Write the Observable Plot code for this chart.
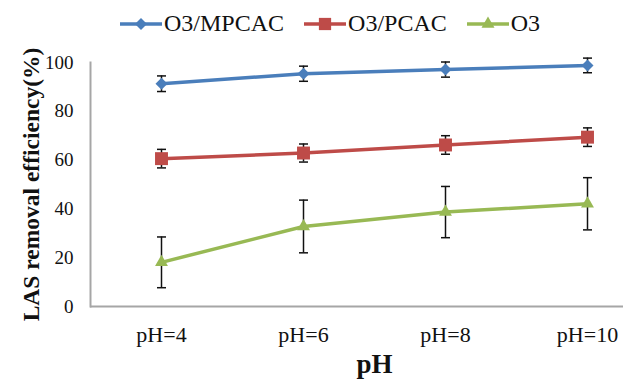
<!DOCTYPE html>
<html><head><meta charset="utf-8">
<script src="https://cdn.jsdelivr.net/npm/d3@7"></script>
<script src="https://cdn.jsdelivr.net/npm/@observablehq/plot@0.6"></script>
<style>
body{margin:0;background:#fff;font-family:"Liberation Serif","Times New Roman",serif;width:623px;height:381px;overflow:hidden;}
#legend{height:45px;display:flex;align-items:center;padding-left:120px;padding-top:2px;box-sizing:border-box;font-family:"Liberation Serif","Times New Roman",serif;font-size:24px;color:#111;}
.item{display:flex;align-items:center;margin-right:20px;}
.item span{font-family:"Liberation Serif","Times New Roman",serif;}
.item svg{margin-right:2px;}
#chart svg g[aria-label="y-axis label"]{font-size:23.5px;font-weight:bold;}
#chart svg g[aria-label="x-axis label"]{font-size:27px;font-weight:bold;}
</style></head><body>
<div id="legend"></div><div id="chart"></div>
<script>
const categories = ["pH=4", "pH=6", "pH=8", "pH=10"];
const seriesNames = ["O3/MPCAC", "O3/PCAC", "O3"];
const mpcacValues = [91.3, 95.4, 97.1, 98.8];
const mpcacErrors = [3.2, 3.1, 3.1, 3.0];
const pcacValues = [60.6, 62.9, 66.2, 69.4];
const pcacErrors = [3.8, 3.7, 3.8, 3.8];
const o3Values = [18.1, 32.8, 38.7, 42.1];
const o3Errors = [10.4, 10.8, 10.5, 10.7];
const yTicks = [0, 20, 40, 60, 80, 100];

const colors = ["#4a7ebb", "#be4b48", "#98b954"];
const symbols = ["diamond2", "square", "triangle"];
const valueSets = [mpcacValues, pcacValues, o3Values];
const errorSets = [mpcacErrors, pcacErrors, o3Errors];

const rows = [];
seriesNames.forEach((s, si) => categories.forEach((c, ci) => {
  rows.push({series: s, cat: c, v: valueSets[si][ci], e: errorSets[si][ci]});
}));

const capSymbol = {draw(ctx) { ctx.moveTo(-4.5, 0); ctx.lineTo(4.5, 0); }};

// legend
const legend = document.getElementById("legend");
seriesNames.forEach((s, i) => {
  const item = document.createElement("div");
  item.className = "item";
  const sym = i === 0 ? d3.symbol(d3.symbolDiamond2, 92)() : i === 1 ? d3.symbol(d3.symbolSquare, 150)() : d3.symbol(d3.symbolTriangle, 73)();
  item.innerHTML = `<svg width="42" height="18"><line x1="0" x2="42" y1="9" y2="9" stroke="${colors[i]}" stroke-width="3.5"/><path d="${sym}" transform="translate(21,9)" fill="${colors[i]}"/></svg><span>${s}</span>`;
  legend.appendChild(item);
});

const chart = Plot.plot({
  width: 623,
  height: 336,
  marginLeft: 90,
  marginRight: -35,
  marginTop: 17,
  marginBottom: 75,
  style: {fontFamily: "Liberation Serif, Times New Roman, serif", color: "#111", background: "white"},
  x: {type: "point", domain: categories, padding: 0.5},
  y: {domain: [0, 100]},
  color: {domain: seriesNames, range: colors},
  symbol: {domain: seriesNames, range: symbols},
  marks: [
    Plot.ruleY([0], {stroke: "#a6a6a6", strokeWidth: 2}),
    Plot.frame({anchor: "left", stroke: "#a6a6a6", strokeWidth: 2}),
    Plot.axisY({ticks: yTicks, tickSize: 0, tickPadding: 17, fontSize: 19, label: "LAS removal efficiency(%)", labelAnchor: "center", labelArrow: "none", labelOffset: 68}),
    Plot.axisX({tickSize: 0, tickPadding: 20, fontSize: 22, label: "pH", labelAnchor: "center", labelArrow: "none", labelOffset: 66}),
    Plot.ruleX(rows, {x: "cat", y1: d => d.v - d.e, y2: d => d.v + d.e, stroke: "#111", strokeWidth: 1.5}),
    Plot.dot(rows, {x: "cat", y: d => d.v + d.e, symbol: capSymbol, stroke: "#111", strokeWidth: 1.5}),
    Plot.dot(rows, {x: "cat", y: d => d.v - d.e, symbol: capSymbol, stroke: "#111", strokeWidth: 1.5}),
    Plot.line(rows, {x: "cat", y: "v", z: "series", stroke: "series", strokeWidth: 3.5}),
    Plot.dot(rows.filter(d => d.series === "O3/MPCAC"), {x: "cat", y: "v", symbol: "series", fill: "series", r: 5.4}),
    Plot.dot(rows.filter(d => d.series === "O3/PCAC"), {x: "cat", y: "v", symbol: "series", fill: "series", r: 7.3}),
    Plot.dot(rows.filter(d => d.series === "O3"), {x: "cat", y: "v", symbol: "series", fill: "series", r: 4.8})
  ]
});
document.getElementById("chart").appendChild(chart);
</script>
</body></html>
